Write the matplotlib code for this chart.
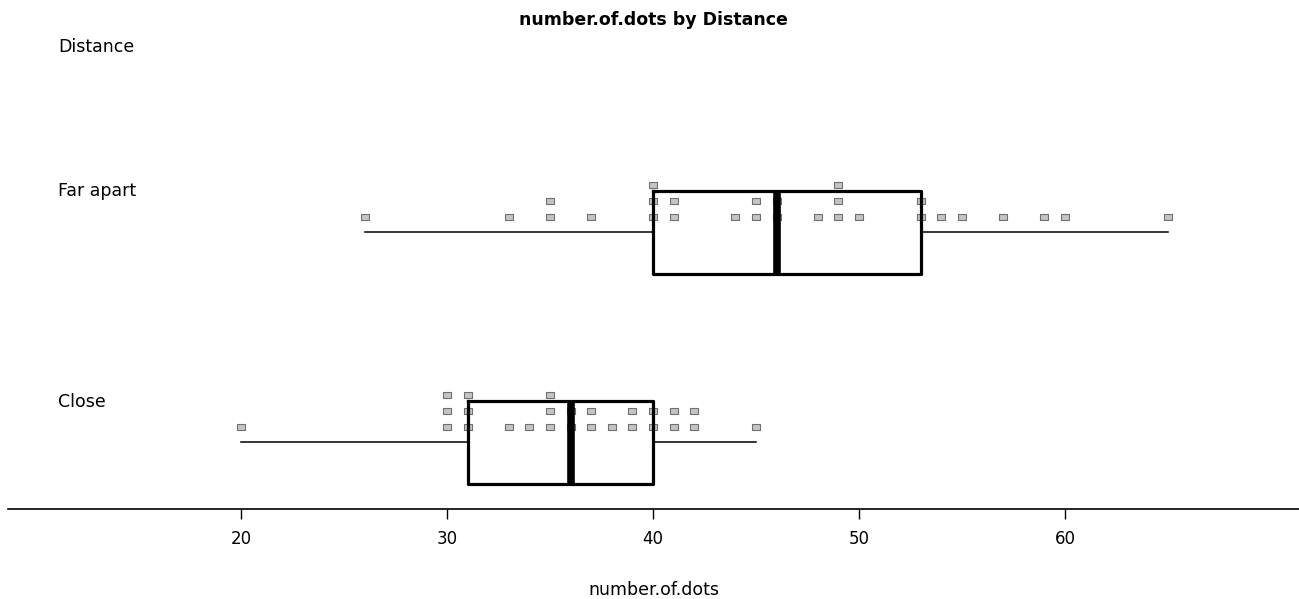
import numpy as np
import matplotlib
matplotlib.use("Agg")
import matplotlib.pyplot as plt

# ---- data ----
groups = ["Far apart", "Close"]
far_apart = [26, 33, 35, 35, 37, 40, 40, 40, 41, 41, 44, 45, 45, 46, 46,
             48, 49, 49, 49, 50, 53, 53, 54, 55, 57, 59, 60, 65]
close = [20, 30, 30, 30, 31, 31, 31, 33, 34, 35, 35, 35, 36, 36, 37, 37,
         38, 39, 39, 40, 40, 41, 41, 42, 42, 45]
xticks = [20, 30, 40, 50, 60]
title = "number.of.dots by Distance"
xlabel = "number.of.dots"
group_title = "Distance"

plt.rcParams['font.family'] = ['DejaVu Sans']

W, H, DPI = 1299, 599, 100
fig = plt.figure(figsize=(W / DPI, H / DPI), dpi=DPI)
# axes: bottom spine is the axis line at pixel row 509
ax = fig.add_axes([8 / W, (H - 509) / H, (W - 8) / W, 509 / H])
px_per_unit = 20.6
ax.set_xlim(20 - (241 - 8) / px_per_unit, 20 + (W - 241) / px_per_unit)
ax.set_ylim(509, 0)  # y in pixel rows from top

centers = {"Far apart": 232.5, "Close": 442.5}
box_h = 83
dot_offset = 15
dot_step = 16


def tukey_stats(vals):
    v = np.sort(np.asarray(vals, dtype=float))
    n = len(v)
    med = np.median(v)
    half = (n + 1) // 2
    lower = v[:half]
    upper = v[n - half:]
    return dict(med=med, q1=np.median(lower), q3=np.median(upper),
                whislo=v.min(), whishi=v.max(), fliers=[])


rect = [(-1, -0.6), (1, -0.6), (1, 0.6), (-1, 0.6), (-1, -0.6)]
stats = []
positions = []
for name, vals in zip(groups, [far_apart, close]):
    c = centers[name]
    base = c - dot_offset
    uv, cnt = np.unique(vals, return_counts=True)
    xs, ys = [], []
    for u, k in zip(uv, cnt):
        for j in range(k):
            xs.append(u)
            ys.append(base - dot_step * j)
    ax.plot(xs, ys, linestyle='none', marker=rect, markersize=6.2,
            markerfacecolor='#c4c4c4', markeredgecolor='#707070',
            markeredgewidth=0.8, zorder=2)
    stats.append(tukey_stats(vals))
    positions.append(c)

ax.bxp(stats, positions=positions, widths=box_h, vert=False,
       showcaps=False, showfliers=False, patch_artist=False,
       boxprops=dict(color='black', linewidth=2.3),
       medianprops=dict(color='black', linewidth=5.5, solid_capstyle='butt'),
       whiskerprops=dict(color='black', linewidth=1.1),
       manage_ticks=False, zorder=3)

for s in ['top', 'right', 'left']:
    ax.spines[s].set_visible(False)
ax.spines['bottom'].set_linewidth(1.2)
ax.set_yticks([])
ax.set_xticks(xticks)
ax.set_xticklabels([str(t) for t in xticks])
ax.tick_params(axis='x', length=7.2, width=1.0, pad=8, labelsize=12)

ax.set_xlabel(xlabel, fontsize=12.5)
ax.xaxis.set_label_coords(0.5, (509 - 590) / 509)
ax.xaxis.label.set_va('center')

fig.text(653 / W, 1 - 20 / H, title, ha='center', va='center',
         fontsize=12.5, fontweight='bold')
fig.text(58 / W, 1 - 46.5 / H, group_title, ha='left', va='center', fontsize=12.5)
fig.text(58 / W, 1 - 191 / H, groups[0], ha='left', va='center', fontsize=12.5)
fig.text(58 / W, 1 - 402 / H, groups[1], ha='left', va='center', fontsize=12.5)

fig.savefig("out.png", dpi=DPI, facecolor='white')
